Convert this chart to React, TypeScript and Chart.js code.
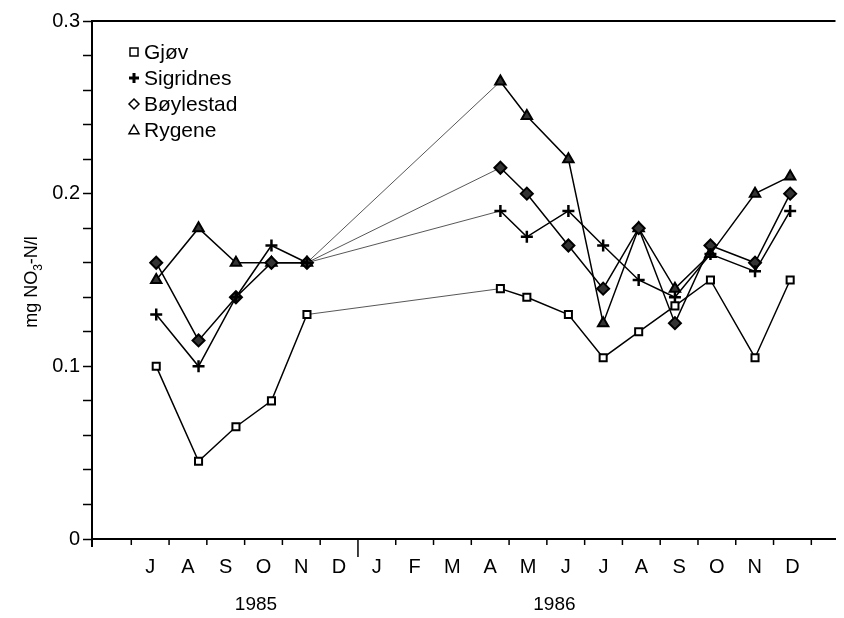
import React, { useEffect, useRef } from 'react';
import { Chart, registerables } from 'chart.js';

Chart.register(...registerables);

// Month letters, July 1985 .. December 1986 (x unit: months since 1 July 1985)
const monthLabels = ['J', 'A', 'S', 'O', 'N', 'D', 'J', 'F', 'M', 'A', 'M', 'J', 'J', 'A', 'S', 'O', 'N', 'D'];
const yearLabels = ['1985', '1986'];
const yearCentres = [3.3, 11.2];

// Sampling dates (months since 1 July 1985)
const sampleMonths = [0.66, 1.78, 2.77, 3.71, 4.65, 9.77, 10.47, 11.57, 12.49, 13.43, 14.39, 15.33, 16.51, 17.44];

const gjov = [0.1, 0.045, 0.065, 0.08, 0.13, 0.145, 0.14, 0.13, 0.105, 0.12, 0.135, 0.15, 0.105, 0.15];
const sigridnes = [0.13, 0.1, 0.14, 0.17, 0.16, 0.19, 0.175, 0.19, 0.17, 0.15, 0.14, 0.165, 0.155, 0.19];
const boylestad = [0.16, 0.115, 0.14, 0.16, 0.16, 0.215, 0.2, 0.17, 0.145, 0.18, 0.125, 0.17, 0.16, 0.2];
const rygene = [0.15, 0.18, 0.16, 0.16, 0.16, 0.265, 0.245, 0.22, 0.125, 0.18, 0.145, 0.165, 0.2, 0.21];

const seriesNames = ['Gjøv', 'Sigridnes', 'Bøylestad', 'Rygene'];
const seriesValues = [gjov, sigridnes, boylestad, rygene];
const seriesShapes = ['rect', 'cross', 'rectRot', 'triangle'];

const FONT = '"Liberation Sans", Arial, Helvetica, sans-serif';

function drawSymbol(ctx: CanvasRenderingContext2D, shape: string, x: number, y: number, r: number) {
  ctx.beginPath();
  if (shape === 'rect') {
    ctx.rect(x - r, y - r, 2 * r, 2 * r);
  } else if (shape === 'cross') {
    ctx.moveTo(x - r, y);
    ctx.lineTo(x + r, y);
    ctx.moveTo(x, y - r);
    ctx.lineTo(x, y + r);
  } else if (shape === 'rectRot') {
    ctx.moveTo(x, y - r);
    ctx.lineTo(x + r, y);
    ctx.lineTo(x, y + r);
    ctx.lineTo(x - r, y);
    ctx.closePath();
  } else {
    ctx.moveTo(x, y - r);
    ctx.lineTo(x + r, y + r * 0.75);
    ctx.lineTo(x - r, y + r * 0.75);
    ctx.closePath();
  }
  ctx.stroke();
}

const decorPlugin = {
  id: 'decor',
  afterDraw(chart: any) {
    const ctx: CanvasRenderingContext2D = chart.ctx;
    const area = chart.chartArea;
    const xs = chart.scales.x;
    ctx.save();
    ctx.strokeStyle = '#000';
    ctx.fillStyle = '#000';

    // top frame line
    ctx.lineWidth = 2;
    ctx.beginPath();
    ctx.moveTo(area.left, area.top);
    ctx.lineTo(area.right, area.top);
    ctx.stroke();

    // y axis extension below origin
    ctx.beginPath();
    ctx.moveTo(area.left, area.bottom);
    ctx.lineTo(area.left, area.bottom + 8);
    ctx.stroke();

    // month boundary ticks
    ctx.lineWidth = 1.5;
    for (let i = 0; i <= monthLabels.length; i++) {
      const px = xs.getPixelForValue(i);
      ctx.beginPath();
      ctx.moveTo(px, area.bottom);
      ctx.lineTo(px, area.bottom + (i === 6 ? 18 : 6));
      ctx.stroke();
    }

    // year labels
    ctx.font = `19px ${FONT}`;
    ctx.textAlign = 'center';
    ctx.textBaseline = 'middle';
    yearLabels.forEach((label, i) => {
      ctx.fillText(label, xs.getPixelForValue(yearCentres[i]), 605);
    });

    // y axis title with subscript
    ctx.save();
    ctx.translate(31, 282);
    ctx.rotate(-Math.PI / 2);
    ctx.textAlign = 'left';
    ctx.textBaseline = 'alphabetic';
    const part1 = 'mg NO';
    const sub = '3';
    const part2 = '-N/l';
    ctx.font = `18px ${FONT}`;
    const w1 = ctx.measureText(part1).width;
    const w3 = ctx.measureText(part2).width;
    ctx.font = `12px ${FONT}`;
    const w2 = ctx.measureText(sub).width;
    const total = w1 + w2 + w3;
    let cx = -total / 2;
    ctx.font = `18px ${FONT}`;
    ctx.fillText(part1, cx, 6);
    cx += w1;
    ctx.font = `12px ${FONT}`;
    ctx.fillText(sub, cx, 11);
    cx += w2;
    ctx.font = `18px ${FONT}`;
    ctx.fillText(part2, cx, 6);
    ctx.restore();

    // legend
    ctx.font = `21px ${FONT}`;
    ctx.textAlign = 'left';
    ctx.textBaseline = 'middle';
    const legendRows = [52, 78, 104, 130];
    seriesNames.forEach((name, i) => {
      const y = legendRows[i];
      ctx.lineWidth = seriesShapes[i] === 'cross' ? 3 : 1.5;
      drawSymbol(ctx, seriesShapes[i], 134, y, seriesShapes[i] === 'rect' ? 4 : 5);
      ctx.fillText(name, 144, y + 1);
    });

    ctx.restore();
  },
};

export default function App() {
  const canvasRef = useRef<HTMLCanvasElement | null>(null);

  useEffect(() => {
    const canvas = canvasRef.current;
    if (!canvas) return;

    const datasets = seriesNames.map((name, i) => ({
      label: name,
      data: sampleMonths.map((m, j) => ({ x: m, y: seriesValues[i][j] })),
      borderColor: '#000',
      borderWidth: 1.5,
      pointStyle: seriesShapes[i],
      pointRadius: seriesShapes[i] === 'rect' ? 5 : 6,
      pointBorderWidth: seriesShapes[i] === 'cross' ? 2.5 : 2,
      pointBorderColor: '#000',
      pointBackgroundColor: seriesShapes[i] === 'rect' || seriesShapes[i] === 'cross' ? '#fff' : '#333',
      fill: false,
      tension: 0,
      segment: {
        borderWidth: (c: any) => (c.p0DataIndex === 4 ? 0.9 : 1.5),
        borderColor: (c: any) => (c.p0DataIndex === 4 ? '#444' : '#000'),
      },
    }));

    const chart = new Chart(canvas, {
      type: 'line',
      data: { datasets },
      options: {
        animation: false,
        responsive: false,
        devicePixelRatio: 1,
        layout: { padding: { top: 21, right: 6, left: 0, bottom: 0 } },
        plugins: {
          legend: { display: false },
          tooltip: { enabled: false },
        },
        scales: {
          x: {
            type: 'linear',
            min: -1.04,
            max: 18.64,
            afterFit: (scale: any) => {
              scale.height = 79;
            },
            afterBuildTicks: (scale: any) => {
              scale.ticks = monthLabels.map((_, i) => ({ value: i + 0.5 }));
            },
            ticks: {
              autoSkip: false,
              maxRotation: 0,
              padding: 16,
              color: '#000',
              font: { family: FONT, size: 20 },
              callback: (v: any) => monthLabels[Math.floor(Number(v))] ?? '',
            },
            grid: { display: false, drawTicks: false },
            border: { display: true, color: '#000', width: 2 },
          },
          y: {
            type: 'linear',
            min: 0,
            max: 0.3,
            afterFit: (scale: any) => {
              scale.width = 92;
            },
            afterBuildTicks: (scale: any) => {
              const t = [];
              for (let k = 0; k <= 15; k++) t.push({ value: k * 0.02 });
              scale.ticks = t;
            },
            ticks: {
              autoSkip: false,
              padding: 3,
              color: '#000',
              font: { family: FONT, size: 20 },
              callback: (v: any) => {
                const n = Number(v);
                const r = Math.round(n * 10);
                if (Math.abs(n * 10 - r) > 1e-6) return '';
                return r === 0 ? '0' : (r / 10).toFixed(1);
              },
            },
            grid: {
              display: true,
              drawOnChartArea: false,
              drawTicks: true,
              tickLength: 9,
              tickWidth: 1.5,
              tickColor: '#000',
            },
            border: { display: true, color: '#000', width: 2 },
          },
        },
      },
      plugins: [decorPlugin],
    });

    return () => chart.destroy();
  }, []);

  return (
    <div style={{ position: 'fixed', left: 0, top: 0, width: 844, height: 618, background: '#fff' }}>
      <canvas ref={canvasRef} width={844} height={618} style={{ width: 844, height: 618, display: 'block' }} />
    </div>
  );
}
